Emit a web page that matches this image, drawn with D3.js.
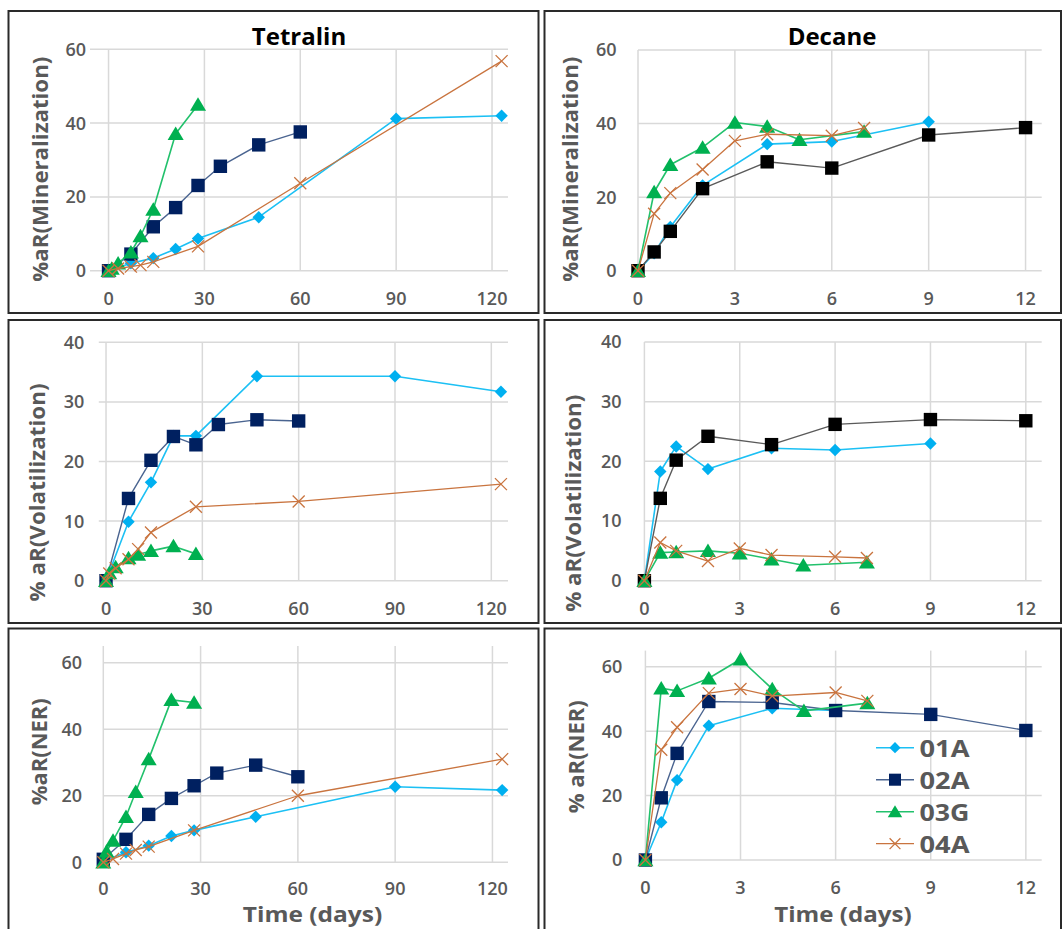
<!DOCTYPE html>
<html><head><meta charset="utf-8">
<script src="https://cdn.jsdelivr.net/npm/d3@7"></script>
<style>body{margin:0;background:#fff}svg{display:block}</style>
</head><body>
<svg id="c" width="1062" height="929"></svg>
<script>
// ---------------- DATA ----------------
const seriesNames = ["01A", "02A", "03G", "04A"];
const columnTitles = ["Tetralin", "Decane"];
const xTicksTetralin = [0, 30, 60, 90, 120];
const xTicksDecane = [0, 3, 6, 9, 12];
const yTicksMin = [0, 20, 40, 60];
const yTicksVol = [0, 10, 20, 30, 40];
const yTicksNER = [0, 20, 40, 60];
const xAxisTitle = "Time (days)";

// Tetralin – mineralization  [day, %aR]
const tetMin01A = [[0,0],[7,2.0],[14,3.4],[21,5.9],[28,8.7],[47,14.5],[90,41.2],[123,42.0]];
const tetMin02A = [[0,0],[7,4.5],[14,11.9],[21,17.1],[28,23.1],[35,28.3],[47,34.1],[60,37.6]];
const tetMin03G = [[0,0],[1,0.6],[3,2.0],[7,5.0],[10,9.4],[14,16.6],[21,37.1],[28,45.0]];
const tetMin04A = [[0,0],[3,0.6],[7,1.1],[10,1.5],[14,2.4],[28,6.6],[60,23.7],[123,56.8]];
// Tetralin – volatilization
const tetVol01A = [[0,0],[7,9.9],[14,16.5],[21,24.3],[28,24.3],[47,34.3],[90,34.3],[123,31.7]];
const tetVol02A = [[0,0],[7,13.8],[14,20.2],[21,24.2],[28,22.8],[35,26.2],[47,27.0],[60,26.8]];
const tetVol03G = [[0,0],[1,1.3],[3,2.3],[7,3.8],[10,4.4],[14,5.0],[21,5.8],[28,4.5]];
const tetVol04A = [[0,0],[1,1.2],[3,2.1],[7,3.6],[10,5.3],[14,8.1],[28,12.4],[60,13.3],[123,16.2]];
// Tetralin – NER
const tetNER01A = [[0,0.3],[7,3.0],[14,5.0],[21,7.9],[28,9.6],[47,13.7],[90,22.7],[123,21.7]];
const tetNER02A = [[0,0.9],[7,6.9],[14,14.4],[21,19.2],[28,23.0],[35,26.8],[47,29.2],[60,25.7]];
const tetNER03G = [[0,0],[1,3.2],[3,6.5],[7,13.7],[10,21.2],[14,31.0],[21,48.8],[28,48.0]];
const tetNER04A = [[0,0],[3,1.0],[7,2.6],[10,3.7],[14,4.7],[28,9.6],[60,20.0],[123,31.0]];
// Decane – mineralization
const decMin01A = [[0,0],[0.5,4.7],[1,11.9],[2,23.2],[4,34.4],[6,35.1],[9,40.5]];
const decMin02A = [[0,0],[0.5,5.1],[1,10.7],[2,22.3],[4,29.6],[6,27.9],[9,36.9],[12,38.9]];
const decMin03G = [[0,0],[0.5,21.4],[1,28.8],[2,33.5],[3,40.3],[4,39.2],[5,35.6],[7,37.8]];
const decMin04A = [[0,0],[0.5,15.5],[1,21.1],[2,27.5],[3,35.3],[4,37.1],[6,36.7],[7,38.8]];
// Decane – volatilization
const decVol01A = [[0,0],[0.5,18.3],[1,22.5],[2,18.7],[4,22.2],[6,21.9],[9,23.0]];
const decVol02A = [[0,0],[0.5,13.8],[1,20.2],[2,24.2],[4,22.8],[6,26.2],[9,27.0],[12,26.8]];
const decVol03G = [[0,0],[0.5,4.7],[1,4.8],[2,5.0],[3,4.6],[4,3.6],[5,2.6],[7,3.1]];
const decVol04A = [[0,0],[0.5,6.4],[1,5.0],[2,3.3],[3,5.4],[4,4.3],[6,4.0],[7,3.8]];
// Decane – NER
const decNER01A = [[0,0],[0.5,11.7],[1,24.8],[2,41.7],[4,47.1],[6,46.4]];
const decNER02A = [[0,0],[0.5,19.3],[1,33.1],[2,49.2],[4,48.9],[6,46.4],[9,45.2],[12,40.2]];
const decNER03G = [[0,0],[0.5,53.3],[1,52.5],[2,56.4],[3,62.3],[4,53.1],[5,46.3],[7,48.7]];
const decNER04A = [[0,0],[0.5,34.2],[1,41.2],[2,51.8],[3,53.1],[4,50.9],[6,52.0],[7,49.4]];

// ---------------- STYLE / LAYOUT ----------------
const styles = {
  "01A": {shape: "diamond", fill: "#00B0F0", line: "#1CC0F4", lw: 1.6},
  "02A": {shape: "square", fill: "#002060", line: "#4A6490", lw: 1.4},
  "03G": {shape: "triangle", fill: "#00B050", line: "#22C16C", lw: 1.6},
  "04A": {shape: "cross", fill: "#C9743F", line: "#C9743F", lw: 1.3}
};
const blackStyle = {shape: "square", fill: "#000000", line: "#5A5A5A", lw: 1.4};

const panels = [
  {box:[8.5,11,538.5,313], xr:[90,508], xd:[-5.8,125], yr:[270.7,49.3], yd:[0,60], xt:xTicksTetralin, yt:yTicksMin,
   ytx:86, xty:298.3, title:columnTitles[0], titleX:299, yl:"%aR(Mineralization)", ylx:48, yly:169.2, yll:225,
   data:[tetMin01A,tetMin02A,tetMin03G,tetMin04A]},
  {box:[544.5,11,1061,313], xr:[638,1041.7], xd:[0,12.5], yr:[270.7,50], yd:[0,60], xt:xTicksDecane, yt:yTicksMin,
   ytx:616.5, xty:298.5, title:columnTitles[1], titleX:832, yl:"%aR(Mineralization)", ylx:578, yly:169.2, yll:225,
   data:[decMin01A,decMin02A,decMin03G,decMin04A], black:true},
  {box:[8.5,320,538.5,623], xr:[98.8,508], xd:[-2.25,125.2], yr:[580.7,342.3], yd:[0,40], xt:xTicksTetralin, yt:yTicksVol,
   ytx:84.4, xty:608.3, yl:"% aR(Volatilization)", ylx:45, yly:492.5, yll:218,
   data:[tetVol01A,tetVol02A,tetVol03G,tetVol04A]},
  {box:[544.5,320,1061,623], xr:[644.4,1041.7], xd:[0,12.5], yr:[580.7,342], yd:[0,40], xt:xTicksDecane, yt:yTicksVol,
   ytx:621.6, xty:609, yl:"% aR(Volatilization)", ylx:581, yly:503.3, yll:217,
   data:[decVol01A,decVol02A,decVol03G,decVol04A], black:true},
  {box:[8.5,628.5,538.5,940], xr:[103.3,508], xd:[0,124.8], yr:[862.3,646], yd:[0,65], xt:xTicksTetralin, yt:yTicksNER,
   ytx:82, xty:889, yl:"%aR(NER)", ylx:47, yly:751.7, yll:107, xTitleX:312.5, xTitleL:139.5,
   data:[tetNER01A,tetNER02A,tetNER03G,tetNER04A]},
  {box:[544.5,628.5,1061,940], xr:[645.4,1041.7], xd:[0,12.5], yr:[860,650.6], yd:[0,65], xt:xTicksDecane, yt:yTicksNER,
   ytx:622.3, xty:887.5, yl:"% aR(NER)", ylx:584, yly:756.7, yll:113, xTitleX:843, xTitleL:137.4,
   data:[decNER01A,decNER02A,decNER03G,decNER04A], legend:true}
];

const svg = d3.select("#c");
const FONT = "'Open Sans', 'DejaVu Sans', sans-serif";
const GRAY = "#595959";

function markerPath(shape, s) {
  if (shape === "diamond") return `M0,${-s}L${s},0L0,${s}L${-s},0Z`;
  if (shape === "square") return `M${-s},${-s}H${s}V${s}H${-s}Z`;
  if (shape === "triangle") return `M0,${-s}L${s*1.1},${s*0.85}L${-s*1.1},${s*0.85}Z`;
  return `M${-s},${-s}L${s},${s}M${s},${-s}L${-s},${s}`;
}
const markerSize = {diamond: 6.2, square: 6.7, triangle: 7.3, cross: 6};

function drawMarker(g, st, x, y, scale = 1) {
  const s = markerSize[st.shape] * scale;
  const p = g.append("path").attr("transform", `translate(${x},${y})`).attr("d", markerPath(st.shape, s));
  if (st.shape === "cross") p.attr("fill", "none").attr("stroke", st.fill).attr("stroke-width", 1.3);
  else p.attr("fill", st.fill);
}

panels.forEach(P => {
  const g = svg.append("g");
  const x = d3.scaleLinear().domain(P.xd).range(P.xr);
  const y = d3.scaleLinear().domain(P.yd).range(P.yr);
  g.append("rect").attr("x", P.box[0]).attr("y", P.box[1])
    .attr("width", P.box[2] - P.box[0]).attr("height", P.box[3] - P.box[1])
    .attr("fill", "none").attr("stroke", "#2a2a2a").attr("stroke-width", 2);
  const yTop = y(P.yd[1]);
  g.append("g").selectAll("line").data(P.yt).join("line")
    .attr("x1", P.xr[0]).attr("x2", P.xr[1]).attr("y1", d => y(d)).attr("y2", d => y(d))
    .attr("stroke", "#d9d9d9").attr("stroke-width", 1.5);
  g.append("g").selectAll("line").data(P.xt).join("line")
    .attr("x1", d => x(d)).attr("x2", d => x(d)).attr("y1", yTop).attr("y2", P.yr[0])
    .attr("stroke", "#d9d9d9").attr("stroke-width", 1.5);
  g.append("g").selectAll("text").data(P.yt).join("text")
    .attr("x", P.ytx).attr("y", d => y(d) + 6.4).attr("text-anchor", "end")
    .attr("font-family", FONT).attr("font-size", 18).attr("font-weight", 600).attr("fill", GRAY).text(d => d);
  g.append("g").selectAll("text").data(P.xt).join("text")
    .attr("x", d => x(d)).attr("y", P.xty + 6.4).attr("text-anchor", "middle")
    .attr("font-family", FONT).attr("font-size", 18).attr("font-weight", 600).attr("fill", GRAY).text(d => d);
  g.append("text").attr("transform", `translate(${P.ylx},${P.yly}) rotate(-90)`)
    .attr("text-anchor", "middle").attr("font-family", FONT).attr("font-weight", "bold")
    .attr("font-size", 21).attr("fill", GRAY)
    .attr("textLength", P.yll).attr("lengthAdjust", "spacingAndGlyphs").text(P.yl);
  if (P.title) {
    g.append("text").attr("x", P.titleX).attr("y", 44.5).attr("text-anchor", "middle")
      .attr("font-family", FONT).attr("font-weight", "bold").attr("font-size", 24).attr("fill", "#000")
      .text(P.title);
  }
  if (P.xTitleX) {
    g.append("text").attr("x", P.xTitleX).attr("y", 922).attr("text-anchor", "middle")
      .attr("font-family", FONT).attr("font-weight", "bold").attr("font-size", 22).attr("fill", GRAY)
      .attr("textLength", P.xTitleL).attr("lengthAdjust", "spacingAndGlyphs").text(xAxisTitle);
  }
  const line = d3.line().x(d => x(d[0])).y(d => y(d[1]));
  P.data.forEach((ser, i) => {
    const name = seriesNames[i];
    const st = (P.black && name === "02A") ? blackStyle : styles[name];
    const sg = g.append("g");
    sg.append("path").datum(ser).attr("d", line).attr("fill", "none")
      .attr("stroke", st.line).attr("stroke-width", st.lw).attr("stroke-linejoin", "round");
    ser.forEach(d => drawMarker(sg, st, x(d[0]), y(d[1])));
  });
  if (P.legend) {
    const lg = g.append("g");
    const base = [756.7, 788.7, 820.7, 852.7];
    seriesNames.forEach((name, i) => {
      const st = styles[name];
      const cy = base[i] - 9.0;
      lg.append("line").attr("x1", 876).attr("x2", 914).attr("y1", cy).attr("y2", cy)
        .attr("stroke", st.line).attr("stroke-width", st.lw);
      drawMarker(lg, st, 895, cy, 0.9);
      lg.append("text").attr("x", 919.5).attr("y", base[i]).attr("font-family", FONT)
        .attr("font-weight", "bold").attr("font-size", 23.5).attr("fill", GRAY)
        .attr("textLength", 50).attr("lengthAdjust", "spacingAndGlyphs").text(name);
    });
  }
});
</script>
</body></html>
